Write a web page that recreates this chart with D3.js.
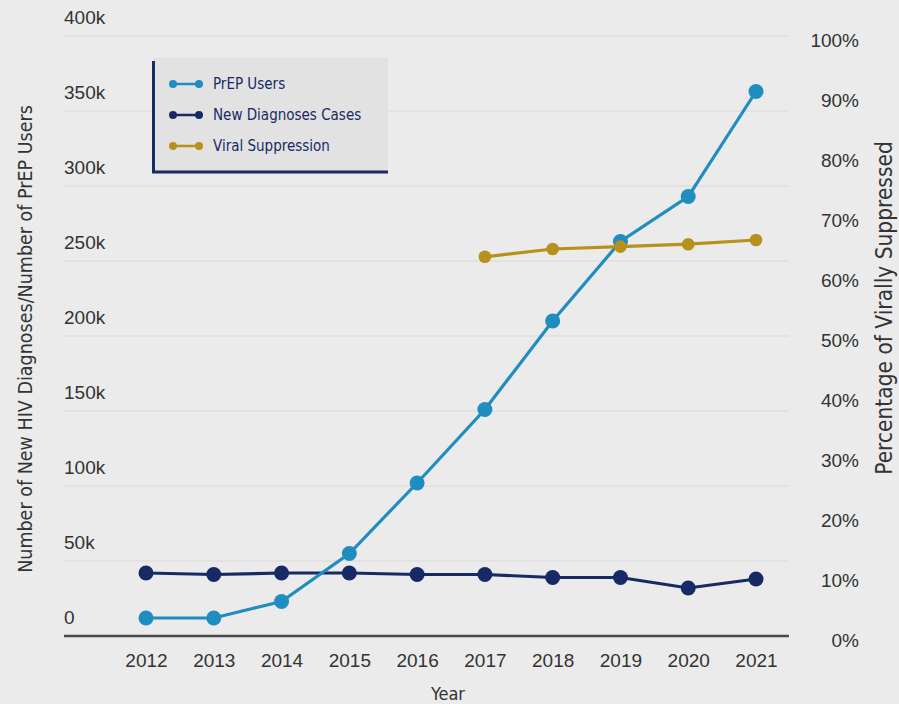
<!DOCTYPE html>
<html>
<head>
<meta charset="utf-8">
<script src="https://cdn.jsdelivr.net/npm/d3@7"></script>
<style>
  html, body { margin: 0; padding: 0; background: #ebebeb; }
  svg { display: block; font-family: "DejaVu Sans Condensed", "Liberation Sans Narrow", sans-serif; }
</style>
</head>
<body>
<svg id="chart" width="899" height="704"></svg>
<script>
const years = [2012, 2013, 2014, 2015, 2016, 2017, 2018, 2019, 2020, 2021];
const prepUsers = [12000, 12000, 23000, 55000, 102000, 151000, 210000, 263000, 293000, 363000];
const newDiagnoses = [42000, 41000, 42000, 42000, 41000, 41000, 39000, 39000, 32000, 38000];
const suppressionYears = [2017, 2018, 2019, 2020, 2021];
const viralSuppression = [63.2, 64.5, 64.9, 65.3, 66.0];
const leftTicks = [0, 50000, 100000, 150000, 200000, 250000, 300000, 350000, 400000];
const rightTicks = [0, 10, 20, 30, 40, 50, 60, 70, 80, 90, 100];

const COLORS = { prep: '#1f8dc0', diag: '#172a66', viral: '#b8901c' };
const PLOT = { left: 64, right: 789, top: 36, bottom: 636 };

const svg = d3.select('#chart');

const x = d3.scalePoint()
  .domain(years)
  .range([146, 756]);

const yLeft = d3.scaleLinear()
  .domain([0, 400000])
  .range([PLOT.bottom, PLOT.top]);

const yRight = d3.scaleLinear()
  .domain([0, 100])
  .range([PLOT.bottom, PLOT.top]);

// gridlines
svg.append('g')
  .attr('class', 'grid')
  .selectAll('line')
  .data(leftTicks.slice(1))
  .join('line')
    .attr('x1', PLOT.left)
    .attr('x2', PLOT.right)
    .attr('y1', d => yLeft(d))
    .attr('y2', d => yLeft(d))
    .attr('stroke', '#d9d9d9')
    .attr('stroke-width', 1.2);

// left axis labels sit above their gridlines
const leftAxis = d3.axisLeft(yLeft)
  .tickValues(leftTicks)
  .tickSize(0)
  .tickFormat(d => d === 0 ? '0' : `${d / 1000}k`);
svg.append('g')
  .attr('class', 'yaxis-left')
  .attr('transform', `translate(${PLOT.left}, -19)`)
  .call(leftAxis)
  .call(g => g.select('.domain').remove())
  .call(g => g.selectAll('text')
    .attr('x', 0)
    .attr('text-anchor', 'start')
    .attr('font-size', 19)
    .attr('fill', '#333'));

// right axis
const rightAxis = d3.axisRight(yRight)
  .tickValues(rightTicks)
  .tickSize(0)
  .tickFormat(d => `${d}%`);
svg.append('g')
  .attr('class', 'yaxis-right')
  .attr('transform', `translate(859, 4)`)
  .call(rightAxis)
  .call(g => g.select('.domain').remove())
  .call(g => g.selectAll('text')
    .attr('x', 0)
    .attr('text-anchor', 'end')
    .attr('font-size', 19)
    .attr('fill', '#333'));

// x axis
const xAxis = d3.axisBottom(x).tickSize(0).tickPadding(18);
svg.append('g')
  .attr('class', 'xaxis')
  .attr('transform', `translate(0, ${PLOT.bottom})`)
  .call(xAxis)
  .call(g => g.select('.domain').remove())
  .call(g => g.selectAll('text')
    .attr('font-size', 19)
    .attr('fill', '#333'));

svg.append('line')
  .attr('x1', PLOT.left)
  .attr('x2', PLOT.right)
  .attr('y1', PLOT.bottom)
  .attr('y2', PLOT.bottom)
  .attr('stroke', '#4a4a4a')
  .attr('stroke-width', 2.5);

// axis titles
svg.append('text')
  .attr('x', 448)
  .attr('y', 700)
  .attr('text-anchor', 'middle')
  .attr('font-size', 18)
  .attr('fill', '#333')
  .text('Year');

svg.append('text')
  .attr('transform', 'translate(32, 339) rotate(-90)')
  .attr('text-anchor', 'middle')
  .attr('font-size', 19.5)
  .attr('fill', '#333')
  .text('Number of New HIV Diagnoses/Number of PrEP Users');

svg.append('text')
  .attr('transform', 'translate(892, 308) rotate(-90)')
  .attr('text-anchor', 'middle')
  .attr('font-size', 22.5)
  .attr('fill', '#333')
  .text('Percentage of Virally Suppressed');

// series
function drawSeries(xs, values, yScale, color, r) {
  const pts = xs.map((yr, i) => [x(yr), yScale(values[i])]);
  const g = svg.append('g');
  g.append('path')
    .attr('d', d3.line()(pts))
    .attr('fill', 'none')
    .attr('stroke', color)
    .attr('stroke-width', 3.2);
  g.selectAll('circle')
    .data(pts)
    .join('circle')
      .attr('cx', d => d[0])
      .attr('cy', d => d[1])
      .attr('r', r)
      .attr('fill', color);
}

drawSeries(years, newDiagnoses, yLeft, COLORS.diag, 7.5);
drawSeries(years, prepUsers, yLeft, COLORS.prep, 7.5);
drawSeries(suppressionYears, viralSuppression, yRight, COLORS.viral, 6.3);

// legend
const legend = svg.append('g').attr('class', 'legend');
legend.append('rect')
  .attr('x', 153)
  .attr('y', 58)
  .attr('width', 235)
  .attr('height', 114)
  .attr('fill', '#e2e2e2');
legend.append('path')
  .attr('d', 'M153.5,61 V172 H388')
  .attr('fill', 'none')
  .attr('stroke', COLORS.diag)
  .attr('stroke-width', 3);

const legendItems = [
  { label: 'PrEP Users', color: COLORS.prep },
  { label: 'New Diagnoses Cases', color: COLORS.diag },
  { label: 'Viral Suppression', color: COLORS.viral }
];
const item = legend.selectAll('g.item')
  .data(legendItems)
  .join('g')
    .attr('class', 'item')
    .attr('transform', (d, i) => `translate(0, ${84 + i * 31})`);
item.append('line')
  .attr('x1', 173).attr('x2', 199)
  .attr('stroke', d => d.color)
  .attr('stroke-width', 2.5);
item.append('circle').attr('cx', 173).attr('r', 4).attr('fill', d => d.color);
item.append('circle').attr('cx', 199).attr('r', 4).attr('fill', d => d.color);
item.append('text')
  .attr('x', 213)
  .attr('dy', '0.35em')
  .attr('font-size', 15)
  .attr('fill', COLORS.diag)
  .text(d => d.label);
</script>
</body>
</html>
